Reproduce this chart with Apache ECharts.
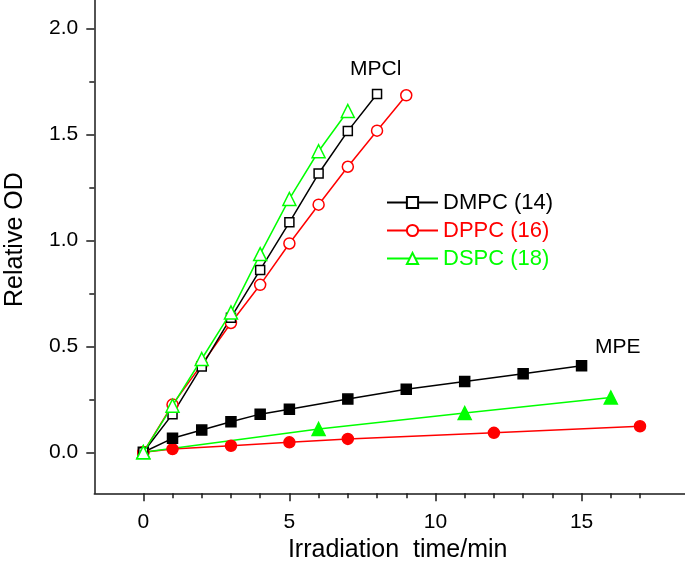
<!DOCTYPE html>
<html>
<head>
<meta charset="utf-8">
<script src="https://cdn.jsdelivr.net/npm/echarts@6/dist/echarts.min.js"></script>
<style>
html,body{margin:0;padding:0;background:#fff;}
#chart{width:685px;height:566px;}
</style>
</head>
<body>
<div id="chart"></div>
<script>
// ---- data ----
var seriesNames = ['DMPC (14)', 'DPPC (16)', 'DSPC (18)'];
// MPCl (open markers)
var mpclDMPC_x = [0, 1, 2, 3, 4, 5, 6, 7, 8];
var mpclDMPC_y = [0, 0.18, 0.405, 0.635, 0.86, 1.085, 1.315, 1.515, 1.69];
var mpclDPPC_x = [0, 1, 2, 3, 4, 5, 6, 7, 8, 9];
var mpclDPPC_y = [0, 0.225, 0.415, 0.61, 0.79, 0.985, 1.168, 1.347, 1.517, 1.684];
var mpclDSPC_x = [0, 1, 2, 3, 4, 5, 6, 7];
var mpclDSPC_y = [0, 0.22, 0.44, 0.66, 0.935, 1.195, 1.42, 1.61];
// MPE (filled markers)
var mpeDMPC_x = [0, 1, 2, 3, 4, 5, 7, 9, 11, 13, 15];
var mpeDMPC_y = [0, 0.066, 0.105, 0.144, 0.18, 0.203, 0.251, 0.297, 0.334, 0.371, 0.408];
var mpeDPPC_x = [0, 1, 3, 5, 7, 12, 17];
var mpeDPPC_y = [0, 0.015, 0.031, 0.047, 0.063, 0.092, 0.123];
var mpeDSPC_x = [0, 6, 11, 16];
var mpeDSPC_y = [0, 0.11, 0.185, 0.258];
// ticks
var xMajorTicks = [0, 5, 10, 15];
var xMinorTicks = [1, 2, 3, 4, 6, 7, 8, 9, 11, 12, 13, 14, 16, 17];
var yMajorTicks = [0, 0.5, 1.0, 1.5, 2.0];
var yMinorTicks = [0.25, 0.75, 1.25, 1.75];
var annotations = ['MPCl', 'MPE'];
var xTitle = 'Irradiation  time/min';
var yTitle = 'Relative OD';

function pairs(xs, ys) { return xs.map(function (x, i) { return [x, ys[i]]; }); }

var FONT = "'Liberation Sans', Arial, sans-serif";
var BLACK = '#000000', RED = '#ff0000', GREEN = '#00ff00';
var AX = '#1a1a1a';
var xMin = -1.677, xMax = 18.54, yMin = -0.1934, yMax = 2.1335;

function lineSeries(name, data, color, symbol, size, filled, z) {
  return {
    name: name, type: 'line', data: data, xAxisIndex: 0, yAxisIndex: 0,
    symbol: symbol, symbolSize: size, showAllSymbol: true,
    lineStyle: { color: color, width: 1.5 },
    itemStyle: { color: filled ? color : '#ffffff', borderColor: color, borderWidth: 1.5 },
    emphasis: { disabled: true }, animation: false, z: z
  };
}

var chart = echarts.init(document.getElementById('chart'), null, { renderer: 'canvas' });
chart.setOption({
  animation: false,
  backgroundColor: '#ffffff',
  textStyle: { fontFamily: FONT },
  grid: { left: 94.3, right: 0, top: 0, bottom: 72.7, containLabel: false, outerBoundsMode: 'none' },
  legend: {
    orient: 'vertical', left: 386, top: 191.5, padding: 0,
    itemWidth: 51, itemHeight: 14, itemGap: 6,
    data: [
      { name: seriesNames[0], textStyle: { color: BLACK } },
      { name: seriesNames[1], textStyle: { color: RED } },
      { name: seriesNames[2], textStyle: { color: GREEN } }
    ],
    textStyle: { fontSize: 22, fontFamily: FONT, lineHeight: 22 },
    selectedMode: false
  },
  xAxis: [{
    type: 'value', min: xMin, max: xMax,
    name: xTitle, nameLocation: 'middle', nameGap: 43,
    nameTextStyle: { fontSize: 25, color: BLACK, fontFamily: FONT, padding: [0, 0, 0, 16] },
    axisLine: { show: true, onZero: false, lineStyle: { color: AX, width: 1.5 } },
    axisTick: { show: true, inside: false, length: 8, lineStyle: { color: AX, width: 1.5 }, customValues: xMajorTicks },
    axisLabel: { show: true, fontSize: 21, color: BLACK, margin: 18, customValues: xMajorTicks, fontFamily: FONT },
    splitLine: { show: false }
  }, {
    type: 'value', min: xMin, max: xMax, position: 'bottom',
    axisLine: { show: false, onZero: false },
    axisTick: { show: true, inside: false, length: 5, lineStyle: { color: AX, width: 1.5 }, customValues: xMinorTicks },
    axisLabel: { show: false, customValues: xMinorTicks },
    splitLine: { show: false }
  }],
  yAxis: [{
    type: 'value', min: yMin, max: yMax,
    name: yTitle, nameLocation: 'middle', nameGap: 67, nameRotate: 90,
    nameTextStyle: { fontSize: 25, color: BLACK, fontFamily: FONT, padding: [0, 0, 0, 14] },
    axisLine: { show: true, onZero: false, lineStyle: { color: AX, width: 1.5 } },
    axisTick: { show: true, inside: false, length: 8, lineStyle: { color: AX, width: 1.5 }, customValues: yMajorTicks },
    axisLabel: { show: true, fontSize: 21, color: BLACK, margin: 16, customValues: yMajorTicks, fontFamily: FONT,
      formatter: function (v) { return v.toFixed(1); } },
    splitLine: { show: false }
  }, {
    type: 'value', min: yMin, max: yMax, position: 'left',
    axisLine: { show: false, onZero: false },
    axisTick: { show: true, inside: false, length: 5, lineStyle: { color: AX, width: 1.5 }, customValues: yMinorTicks },
    axisLabel: { show: false, customValues: yMinorTicks },
    splitLine: { show: false }
  }],
  graphic: [
    { type: 'text', left: 350, top: 59, style: { text: annotations[0], fontSize: 21, fontFamily: FONT, fill: BLACK } },
    { type: 'text', left: 595, top: 337, style: { text: annotations[1], fontSize: 21, fontFamily: FONT, fill: BLACK } }
  ],
  series: [
    lineSeries('MPE ' + seriesNames[1], pairs(mpeDPPC_x, mpeDPPC_y), RED, 'circle', 11, true, 2),
    lineSeries('MPE ' + seriesNames[2], pairs(mpeDSPC_x, mpeDSPC_y), GREEN, 'triangle', 13, true, 2),
    lineSeries('MPE ' + seriesNames[0], pairs(mpeDMPC_x, mpeDMPC_y), BLACK, 'rect', 10, true, 2),
    lineSeries(seriesNames[1], pairs(mpclDPPC_x, mpclDPPC_y), RED, 'circle', 11, false, 3),
    lineSeries(seriesNames[0], pairs(mpclDMPC_x, mpclDMPC_y), BLACK, 'rect', 9, false, 3),
    lineSeries(seriesNames[2], pairs(mpclDSPC_x, mpclDSPC_y), GREEN, 'triangle', 13, false, 4)
  ]
});
</script>
</body>
</html>
